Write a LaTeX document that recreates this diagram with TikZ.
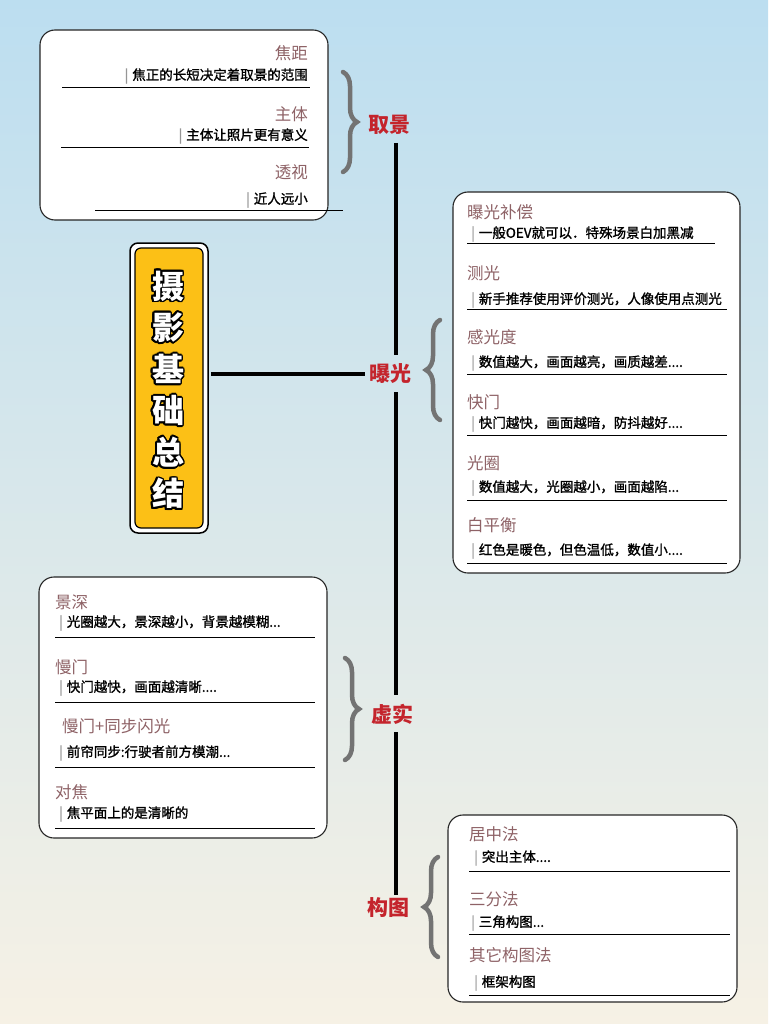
\documentclass[tikz,border=0pt]{standalone}
\usepackage{fontspec}
\setmainfont{Noto Sans CJK SC}
\usepackage[copies]{contour}
\usetikzlibrary{decorations.pathreplacing}
\definecolor{skytop}{RGB}{188,222,240}
\definecolor{skymid}{RGB}{226,234,236}
\definecolor{sand}{RGB}{246,241,229}
\definecolor{mauve}{RGB}{142,98,102}
\definecolor{labelred}{RGB}{196,36,44}
\definecolor{bargray}{RGB}{150,150,150}
\definecolor{bracegray}{RGB}{115,115,115}
\definecolor{gold}{RGB}{252,192,22}
\newcommand{\barsep}{\textcolor{bargray}{|}\hspace{4pt}}
\contourlength{1.8pt}
\begin{document}
\begin{tikzpicture}[x=1pt,y=-1pt,
	card/.style={draw=black!85,line width=1.1pt,fill=white,rounded corners=15pt},
	head/.style={inner sep=0pt,text=mauve,font=\fontsize{16.5}{18}\selectfont},
	body/.style={inner sep=0pt,font=\fontsize{13.5}{15}\selectfont\addfontfeatures{FakeBold=1.3}},
	itemline/.style={line width=0.9pt},
	branch/.style={inner sep=0pt,text=labelred,font=\bfseries\fontsize{21}{23}\selectfont},
	spine/.style={line width=3.5pt,shorten <=8pt,shorten >=9pt},
	curly/.style={draw=bracegray,line width=4.5pt,line cap=round,decorate,decoration={brace,amplitude=14pt}},
	titlechar/.style={inner sep=0pt,text=white,font=\bfseries\fontsize{32}{34}\selectfont}]
	\shade[top color=skytop,middle color=skymid,bottom color=sand] (0,0) rectangle (768,1024);
	\useasboundingbox (0,0) rectangle (768,1024);
	% title
	\node[draw=black,line width=1.5pt,fill=white,rounded corners=8pt,minimum width=78pt,minimum height=290pt] (title) at (169,388) {};
	\node[draw=black,line width=1.2pt,fill=gold,rounded corners=6pt,minimum width=68pt,minimum height=280pt] (titlein) at (169,388) {};
	\foreach \ch [count=\i from 0] in {摄,影,基,础,总,结}
		\node[titlechar] (t\i) at (168,287+41.5*\i) {\contour{black}{\ch}};
	% branches
	\coordinate (spinex) at (396,0);
	\node[branch] (qujing) at (389,125) {取景};
	\node[branch] (baoguang) at (390,374) {曝光};
	\node[branch] (xushi) at (392,714) {虚实};
	\node[branch] (goutu) at (388,908) {构图};
	\draw[line width=3.5pt] ([xshift=2pt]title.east |- baoguang) -- ([xshift=-4pt]baoguang.west);
	\draw[spine] (qujing.south -| spinex) -- (baoguang.north -| spinex);
	\draw[spine] (baoguang.south -| spinex) -- (xushi.north -| spinex);
	\draw[spine,shorten >=2.5pt] (xushi.south -| spinex) -- (goutu.north -| spinex);
	% braces
	\draw[curly] (343,72) -- (343,172);
	\draw[curly] (440,420) -- (440,320);
	\draw[curly] (345,658) -- (345,760);
	\draw[curly] (438,957) -- (438,857);
	% 取景
	\draw[card] (40,30) rectangle (328,220);
	\node[head,anchor=east] (jiaoju) at (308,53) {焦距};
	\node[body,anchor=east] (jiaojut) at (308,76) {\barsep 焦正的长短决定着取景的范围};
	\draw[itemline] (62,87) -- (310,87);
	\node[head,anchor=east] (zhuti) at (308,114) {主体};
	\node[body,anchor=east] (zhutit) at (308,136) {\barsep 主体让照片更有意义};
	\draw[itemline] (61,147) -- (309,147);
	\node[head,anchor=east] (toushi) at (308,172) {透视};
	\node[body,anchor=east] (toushit) at (308,200) {\barsep 近人远小};
	\draw[itemline] (95,210) -- (343,210);
	% 曝光
	\draw[card] (453,192) rectangle (740,573);
	\node[head,anchor=west] (buchang) at (467,212) {曝光补偿};
	\node[body,anchor=west] (buchangt) at (471,234) {\barsep 一般OEV就可以．特殊场景白加黑减};
	\draw[itemline] (467,243) -- (715,243);
	\node[head,anchor=west] (ceguang) at (467,273) {测光};
	\node[body,anchor=west] (ceguangt) at (471,300) {\barsep 新手推荐使用评价测光，人像使用点测光};
	\draw[itemline] (467,309) -- (727,309);
	\node[head,anchor=west] (iso) at (467,337) {感光度};
	\node[body,anchor=west] (isot) at (471,363) {\barsep 数值越大，画面越亮，画质越差....};
	\draw[itemline] (467,374) -- (727,374);
	\node[head,anchor=west] (kuaimen) at (467,402) {快门};
	\node[body,anchor=west] (kuaiment) at (471,424) {\barsep 快门越快，画面越暗，防抖越好....};
	\draw[itemline] (467,435) -- (727,435);
	\node[head,anchor=west] (quan) at (467,463) {光圈};
	\node[body,anchor=west] (quant) at (471,488) {\barsep 数值越大，光圈越小，画面越陷...};
	\draw[itemline] (467,500) -- (727,500);
	\node[head,anchor=west] (baiph) at (467,525) {白平衡};
	\node[body,anchor=west] (baipht) at (471,551) {\barsep 红色是暖色，但色温低，数值小....};
	\draw[itemline] (467,563) -- (727,563);
	% 虚实
	\draw[card] (39,577) rectangle (327,838);
	\node[head,anchor=west] (jingshen) at (55,602) {景深};
	\node[body,anchor=west] (jingshent) at (59,623) {\barsep 光圈越大，景深越小，背景越模糊...};
	\draw[itemline] (55,637) -- (315,637);
	\node[head,anchor=west] (manmen) at (55,667) {慢门};
	\node[body,anchor=west] (manment) at (59,688) {\barsep 快门越快，画面越清晰....};
	\draw[itemline] (55,702) -- (315,702);
	\node[head,anchor=west] (shanguang) at (62,726) {慢门+同步闪光};
	\node[body,anchor=west] (shanguangt) at (59,753) {\barsep 前帘同步:行驶者前方模潮...};
	\draw[itemline] (55,767) -- (315,767);
	\node[head,anchor=west] (duijiao) at (55,792) {对焦};
	\node[body,anchor=west] (duijiaot) at (59,814) {\barsep 焦平面上的是清晰的};
	\draw[itemline] (55,828) -- (315,828);
	% 构图
	\draw[card] (448,815) rectangle (737,1002);
	\node[head,anchor=west] (juzhong) at (469,834) {居中法};
	\node[body,anchor=west] (juzhongt) at (474,858) {\barsep 突出主体....};
	\draw[itemline] (469,871) -- (730,871);
	\node[head,anchor=west] (sanfen) at (469,899) {三分法};
	\node[body,anchor=west] (sanfent) at (471,923) {\barsep 三角构图...};
	\draw[itemline] (469,934) -- (730,934);
	\node[head,anchor=west] (qita) at (469,955) {其它构图法};
	\node[body,anchor=west] (qitat) at (474,983) {\barsep 框架构图};
	\draw[itemline] (469,995) -- (730,995);
\end{tikzpicture}
\end{document}
